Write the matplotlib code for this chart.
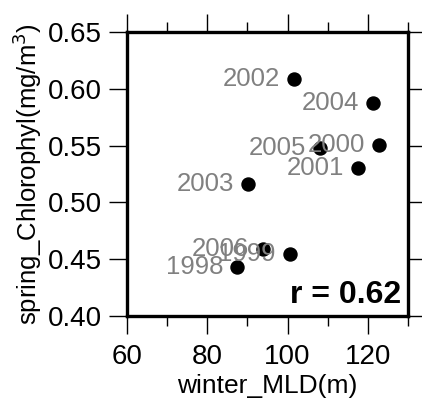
import matplotlib
matplotlib.use("Agg")
import matplotlib.pyplot as plt
from matplotlib.ticker import MultipleLocator

plt.rcParams['font.family'] = ['Liberation Sans', 'DejaVu Sans']

# Data
years = ['1998', '1999', '2000', '2001', '2002', '2003', '2004', '2005', '2006']
winter_mld = [87.5, 100.5, 122.75, 117.5, 101.5, 90.25, 121.25, 108.0, 93.75]
spring_chl = [0.443, 0.4546, 0.551, 0.530, 0.609, 0.516, 0.5875, 0.548, 0.459]
r_value = 0.62

fig = plt.figure(figsize=(4.22, 4.01), dpi=100)
ax = fig.add_axes([0.301, 0.212, 0.666, 0.708])

ax.scatter(winter_mld, spring_chl, s=88, color='black', zorder=2)
for yr, x, y in zip(years, winter_mld, spring_chl):
    ax.annotate(yr, (x, y), xytext=(-10, 0), textcoords='offset points',
                ha='right', va='center', fontsize=18.5, color='#808080', zorder=3)

ax.text(0.975, 0.046, f"r = {r_value:.2f}", transform=ax.transAxes,
        ha='right', va='baseline', fontsize=23, fontweight='bold')

ax.set_xlim(60, 130)
ax.set_ylim(0.40, 0.65)
ax.xaxis.set_major_locator(MultipleLocator(20))
ax.xaxis.set_minor_locator(MultipleLocator(10))
ax.yaxis.set_major_locator(MultipleLocator(0.05))
ax.yaxis.set_major_formatter(plt.FormatStrFormatter('%.2f'))

ax.tick_params(axis='both', which='major', direction='out', length=13, width=1.0,
               labelsize=20, top=True, right=True)
ax.tick_params(axis='x', which='major', pad=7)
ax.tick_params(axis='y', which='major', pad=5)
ax.tick_params(axis='x', which='minor', direction='out', length=7, width=1.0, top=True)
for sp in ax.spines.values():
    sp.set_linewidth(2.4)

ax.set_xlabel('winter_MLD(m)', fontsize=19, labelpad=3)
ax.set_ylabel('spring_Chlorophyl(mg/m$^3$)', fontsize=18.5, labelpad=3)

fig.savefig('out.png', dpi=100)
